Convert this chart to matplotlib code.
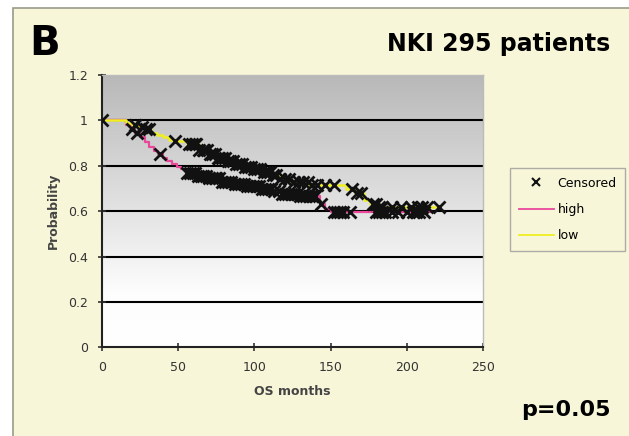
import numpy as np
import matplotlib
matplotlib.use("Agg")
import matplotlib.pyplot as plt
from matplotlib.patches import Rectangle
from matplotlib.lines import Line2D

plt.rcParams['font.family'] = ['DejaVu Sans']

# --- data ---
high_t = [0, 16, 19, 22, 25, 28, 31, 34, 37, 40, 43, 46, 49, 52, 55, 62, 70, 78, 86, 95, 104,
          112, 118, 130, 143, 146, 150, 215]
high_s = [1.0, 0.98, 0.96, 0.945, 0.925, 0.905, 0.885, 0.865, 0.85, 0.835, 0.82, 0.806, 0.795,
          0.785, 0.77, 0.755, 0.745, 0.73, 0.72, 0.71, 0.70, 0.69, 0.675, 0.665, 0.63, 0.61,
          0.595, 0.595]
low_t = [0, 16, 20, 24, 28, 32, 36, 40, 44, 48, 56, 64, 70, 76, 82, 88, 94, 100, 106, 112, 116,
         124, 136, 160, 166, 172, 176, 182, 221]
low_s = [1.0, 0.99, 0.98, 0.97, 0.96, 0.945, 0.935, 0.925, 0.915, 0.908, 0.895, 0.87, 0.85,
         0.835, 0.82, 0.81, 0.795, 0.785, 0.775, 0.76, 0.74, 0.73, 0.715, 0.70, 0.68, 0.65, 0.63,
         0.62, 0.62]

low_cens = [0, 22, 26, 29, 31, 48, 57, 59, 61, 62, 64, 66, 67, 69, 71, 72, 74, 76, 77, 79, 81, 83,
            84, 86, 88, 90, 92, 94, 96, 98, 100, 102, 104, 106, 108, 110, 112, 114, 117, 120, 123,
            126, 129, 132, 135, 138, 141, 146, 152, 164, 167, 170, 178, 180, 182, 184, 190, 196,
            203, 207, 210, 213, 221]
high_cens = [20, 23, 38, 56, 58, 60, 61, 63, 65, 66, 68, 70, 72, 74, 75, 77, 79, 81, 83, 85, 87,
             89, 91, 93, 95, 97, 99, 101, 103, 105, 107, 109, 111, 113, 116, 118, 120, 122, 124,
             126, 128, 130, 132, 134, 136, 138, 140, 144, 152, 154, 156, 158, 163, 180, 182, 184,
             186, 190, 194, 200, 204, 206, 208, 211]


def surv_at(times, surv, t):
    idx = np.searchsorted(times, t, side='right') - 1
    return np.asarray(surv)[idx]


fig = plt.figure(figsize=(6.29, 4.36), dpi=100, facecolor='white')

# cream panel behind everything
fig.patches.append(Rectangle((13 / 629, -0.01), 1.0, 0.982 + 0.01, transform=fig.transFigure,
                             facecolor='#f8f6d8', edgecolor='#9a9a8a', linewidth=1.2, zorder=-5))

ax = fig.add_axes([0.162, 0.203, 0.606, 0.625])
ax.set_zorder(2)
ax.set_xlim(0, 250)
ax.set_ylim(0, 1.2)

# gradient background
grad = np.linspace(1, 0, 256).reshape(-1, 1)
cmap = matplotlib.colors.LinearSegmentedColormap.from_list(
    'bg', [(0, '#ffffff'), (0.2, '#fdfdfd'), (1, '#b8b8b8')])
ax.imshow(grad, extent=[0, 250, 0, 1.2], aspect='auto', cmap=cmap, vmin=0, vmax=1,
          origin='upper', zorder=0)

for yv in [0.2, 0.4, 0.6, 0.8, 1.0]:
    ax.axhline(yv, color='black', linewidth=1.5, zorder=1)

ax.step(high_t, high_s, where='post', color='#e8479a', linewidth=1.6, zorder=2)
ax.step(low_t, low_s, where='post', color='#eeee22', linewidth=1.8, zorder=2)

ax.plot(high_cens, surv_at(high_t, high_s, high_cens), linestyle='none', marker='x',
        color='#111111', markersize=8, markeredgewidth=2.0, zorder=3)
ax.plot(low_cens, surv_at(low_t, low_s, low_cens), linestyle='none', marker='x',
        color='#111111', markersize=8, markeredgewidth=2.0, zorder=3)

ax.set_xticks([0, 50, 100, 150, 200, 250])
ax.set_yticks([0, 0.2, 0.4, 0.6, 0.8, 1.0, 1.2])
ax.set_yticklabels(['0', '0.2', '0.4', '0.6', '0.8', '1', '1.2'])
ax.tick_params(direction='inout', length=6, width=1.2, labelsize=9, colors='#333333', pad=7)
for side in ['left', 'bottom']:
    ax.spines[side].set_color('#222222')
    ax.spines[side].set_linewidth(1.5)
for side in ['top', 'right']:
    ax.spines[side].set_color('#bbbbbb')
    ax.spines[side].set_linewidth(1.0)

ax.set_xlabel('OS months', fontsize=9, fontweight='bold', color='#444444', labelpad=8)
ax.set_ylabel('Probability', fontsize=9, fontweight='bold', color='#444444', labelpad=6)

fig.text(0.047, 0.898, 'B', fontsize=29, fontweight='bold', va='center', ha='left')
fig.text(0.970, 0.900, 'NKI 295 patients', fontsize=17, fontweight='bold', va='center', ha='right')
fig.text(0.970, 0.060, 'p=0.05', fontsize=16, fontweight='bold', va='center', ha='right')

handles = [
    Line2D([], [], linestyle='none', marker='x', color='#111111', markersize=6, markeredgewidth=1.5),
    Line2D([], [], color='#e8479a', linewidth=1.3),
    Line2D([], [], color='#eeee22', linewidth=1.3),
]
leg = fig.legend(handles, ['Censored', 'high', 'low'], loc='upper left',
                 bbox_to_anchor=(510 / 629, 1 - 168 / 436), fontsize=9, frameon=True,
                 fancybox=False, handlelength=2.8, handletextpad=0.3, labelspacing=1.05,
                 borderpad=0.7, borderaxespad=0)
leg.get_frame().set_facecolor('#f8f6d8')
leg.get_frame().set_edgecolor('#999999')
leg.set_zorder(3)

fig.savefig('out.png', dpi=100, facecolor='white')
